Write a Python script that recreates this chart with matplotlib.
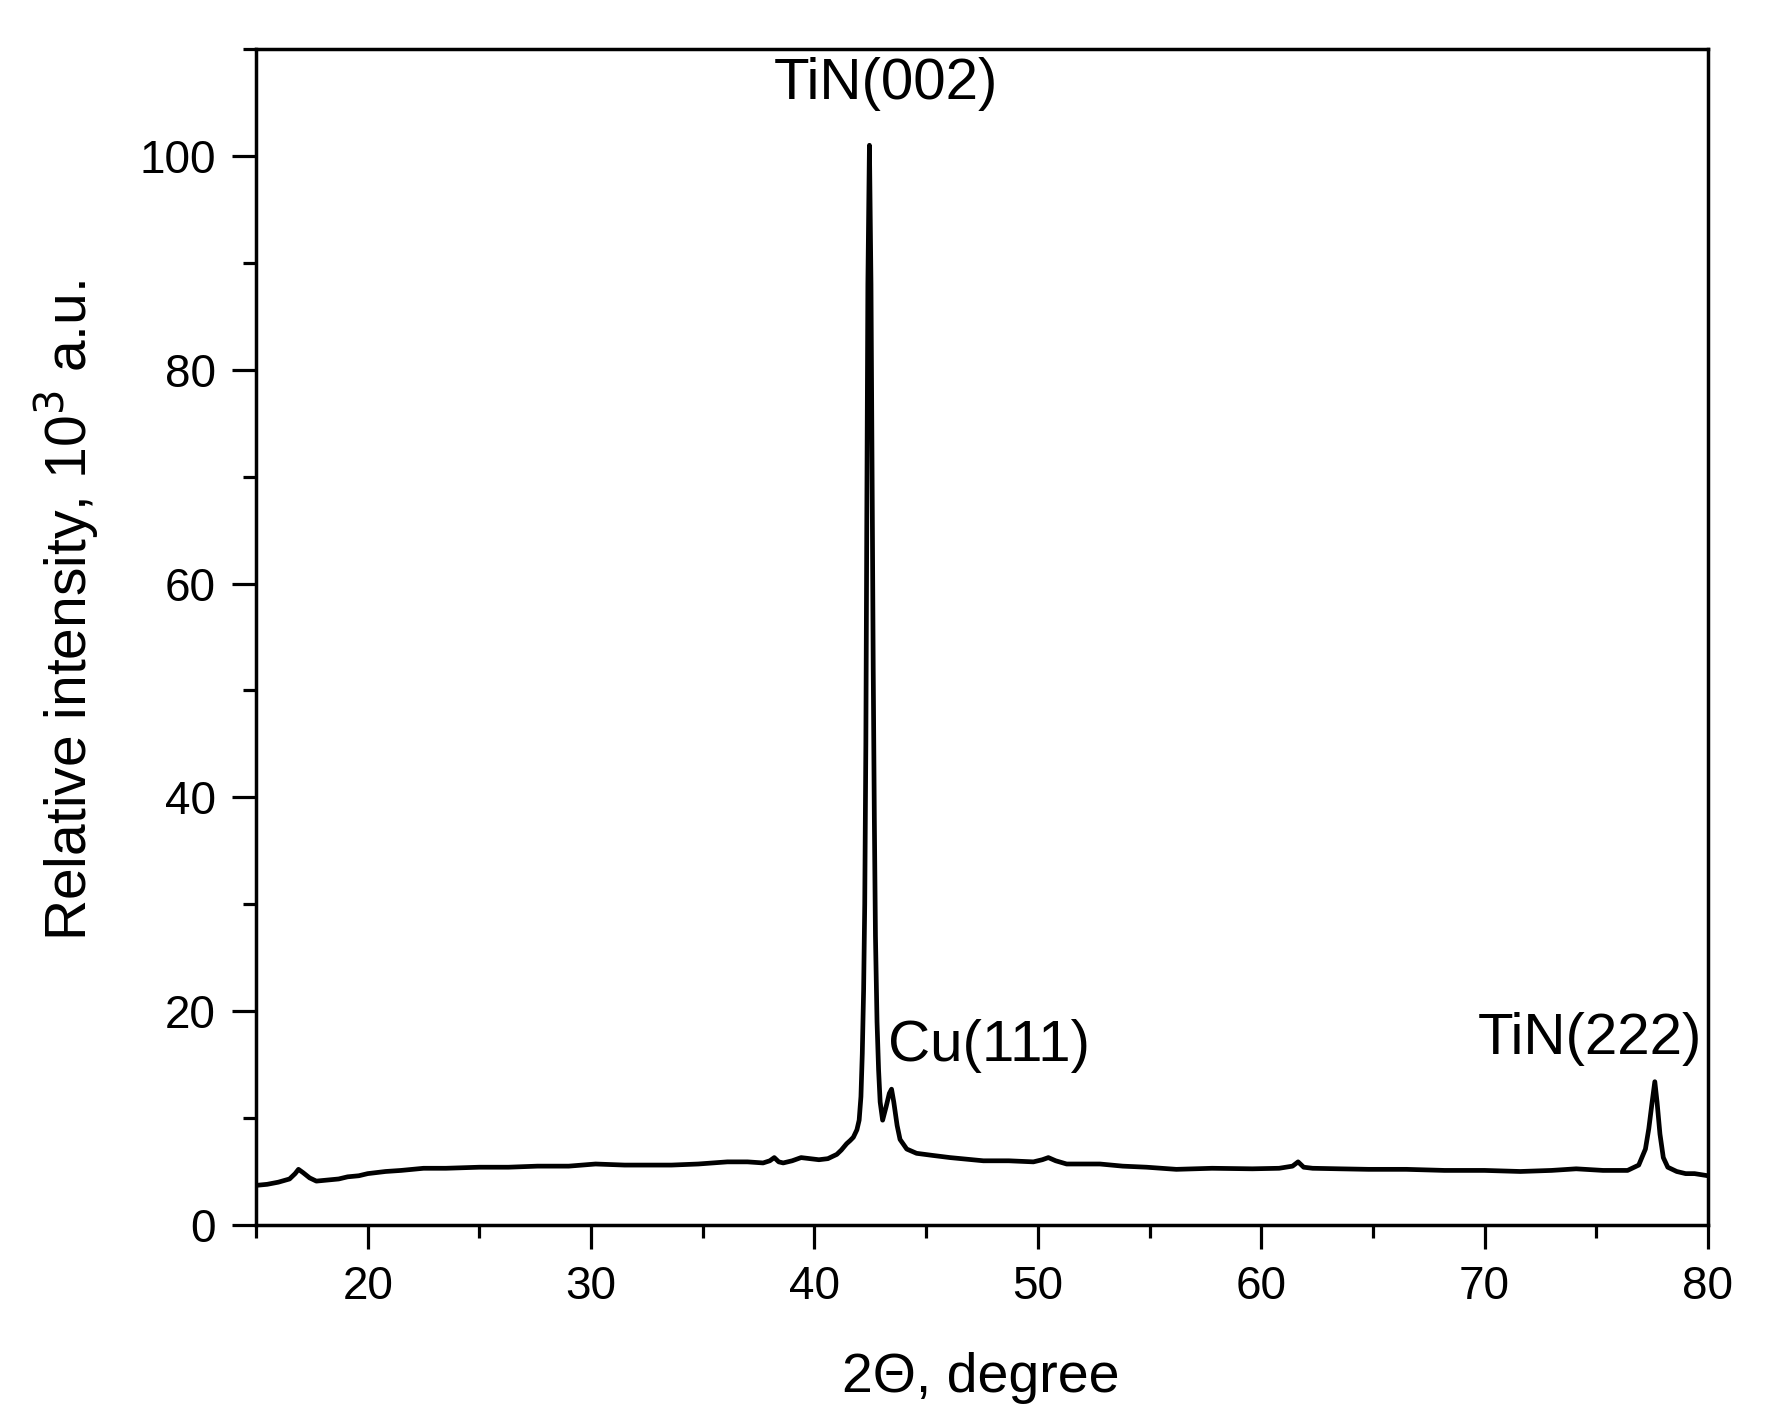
import matplotlib
matplotlib.use("Agg")
import matplotlib.pyplot as plt
from matplotlib.ticker import MultipleLocator

plt.rcParams['font.family'] = ['Liberation Sans', 'DejaVu Sans']

# 2-theta (degree) values
two_theta = [
    15.0, 15.5, 16.0, 16.5, 16.75, 16.9, 17.1, 17.4, 17.7, 18.2, 18.7, 19.1, 19.6,
    20.0, 20.8, 21.5, 22.5, 23.5, 25.0, 26.3, 27.6, 29.0, 30.2, 31.5, 32.5,
    33.6, 34.8, 36.1, 37.0, 37.7, 38.0, 38.2, 38.4, 38.6, 39.0, 39.4, 39.8,
    40.2, 40.6, 41.0, 41.2, 41.44, 41.6, 41.74, 41.9, 42.0, 42.08, 42.14,
    42.2, 42.25, 42.3, 42.34, 42.39, 42.46, 42.53, 42.58, 42.63, 42.68,
    42.73, 42.8, 42.87, 42.94, 43.05, 43.2, 43.35, 43.45, 43.55, 43.7,
    43.83, 44.13, 44.57, 45.3, 46.07, 47.56, 48.7, 49.8, 50.2, 50.47, 50.8,
    51.29, 52.0, 52.78, 53.8, 54.87, 56.2, 57.8, 59.6, 60.8, 61.4, 61.65,
    61.9, 62.3, 63.5, 64.8, 66.5, 68.2, 70.0, 71.6, 73.0, 74.1, 75.3,
    76.4, 76.9, 77.2, 77.35, 77.5, 77.62, 77.72, 77.85, 78.0, 78.2, 78.6,
    79.0, 79.4, 80.0,
]

# Relative intensity (10^3 a.u.)
intensity = [
    3.7, 3.8, 4.0, 4.3, 4.8, 5.2, 4.9, 4.4, 4.1, 4.2, 4.3, 4.5, 4.6,
    4.8, 5.0, 5.1, 5.3, 5.3, 5.4, 5.4, 5.5, 5.5, 5.7, 5.6, 5.6,
    5.6, 5.7, 5.9, 5.9, 5.8, 6.0, 6.3, 5.9, 5.8, 6.0, 6.3, 6.2,
    6.1, 6.2, 6.6, 7.0, 7.6, 7.9, 8.2, 8.9, 9.8, 12.0, 16.0,
    22.0, 30.0, 45.0, 65.0, 88.0, 101.0, 88.0, 70.0, 52.0, 38.0,
    27.0, 19.0, 14.5, 11.5, 9.8, 11.0, 12.3, 12.7, 11.5, 9.3,
    8.0, 7.1, 6.7, 6.5, 6.3, 6.0, 6.0, 5.9, 6.1, 6.3, 6.0,
    5.7, 5.7, 5.7, 5.5, 5.4, 5.2, 5.3, 5.25, 5.3, 5.5, 5.9,
    5.4, 5.3, 5.25, 5.2, 5.2, 5.1, 5.1, 5.0, 5.1, 5.25, 5.1,
    5.1, 5.6, 7.1, 9.0, 11.5, 13.4, 11.5, 8.5, 6.3, 5.4, 5.0,
    4.8, 4.8, 4.6,
]

peak_labels = ["TiN(002)", "Cu(111)", "TiN(222)"]
label_x = [43.2, 47.8, 74.7]
label_y = [106.7, 16.7, 17.4]

xticks_major = [20, 30, 40, 50, 60, 70, 80]
yticks_major = [0, 20, 40, 60, 80, 100]

fig = plt.figure(figsize=(17.67, 14.26), dpi=100)
ax = fig.add_axes([0.1449, 0.1410, 0.8217, 0.8246])

ax.plot(two_theta, intensity, color='black', lw=3.4, solid_joinstyle='round')

ax.set_xlim(15, 80)
ax.set_ylim(0, 110)
ax.set_xticks(xticks_major)
ax.set_yticks(yticks_major)
ax.xaxis.set_minor_locator(MultipleLocator(5))
ax.yaxis.set_minor_locator(MultipleLocator(10))
ax.tick_params(which='major', direction='out', length=17, width=2.3,
               labelsize=33, pad=12, top=False, right=False)
ax.tick_params(which='minor', direction='out', length=9.5, width=2.3,
               top=False, right=False)
for s in ax.spines.values():
    s.set_linewidth(2.5)

for t, x, y in zip(peak_labels, label_x, label_y):
    ax.text(x, y, t, ha='center', va='center', fontsize=42)

fig.text(0.555, 0.034, "2\u0398, degree", ha='center', va='center', fontsize=40)
fig.text(0.038, 0.572, "Relative intensity, 10$^{3}$ a.u.", ha='center', va='center',
         rotation=90, fontsize=41)

fig.savefig("out.png", dpi=100)
